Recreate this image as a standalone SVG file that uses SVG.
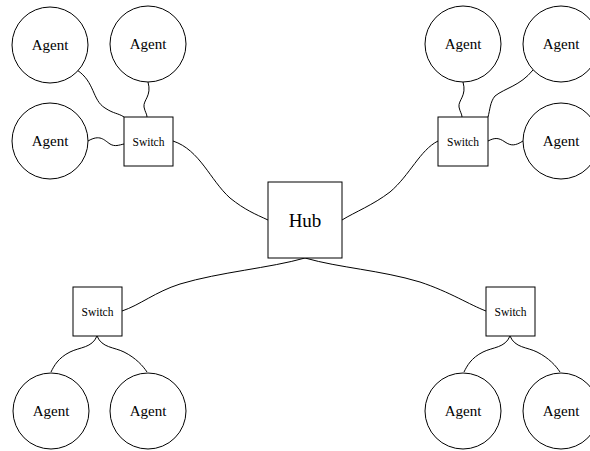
<svg xmlns="http://www.w3.org/2000/svg" width="590" height="451" viewBox="0 0 590 451">
<style>
.n{fill:#fff;stroke:#000;stroke-width:1}
.t{font-family:"Liberation Serif","Times New Roman",serif;fill:#000;text-anchor:middle;dominant-baseline:central}
.a{font-size:15px}
.s{font-size:11.5px}
.h{font-size:19px}
.c{fill:none;stroke:#000;stroke-width:1}
</style>
<rect width="590" height="451" fill="#fff"/>
<g id="connectors">
<path class="c" d="M77,70 C95,82 92,100 105,108 C114,114 118,113 124,117"/>
<path class="c" d="M148,82 C152,96 143,100 144,107 C145,112 147,114 147,117"/>
<path class="c" d="M88,141 C100,134 104,140 110,144 C115,147 119,145 124,144"/>
<path class="c" d="M173,141 C200,150 210,180 230,198 C245,210 255,214 268,220"/>
<path class="c" d="M463,82 C467,96 458,100 459,107 C460,112 462,114 462,117"/>
<path class="c" d="M533,70 C520,86 505,88 495,96 C490,102 490,110 488,117"/>
<path class="c" d="M523,141 C515,146 511,146 505,142 C498,137 494,138 488,141"/>
<path class="c" d="M438,141 C420,150 410,175 390,192 C373,205 355,212 342,220"/>
<path class="c" d="M305,258 C270,268 220,272 180,284 C155,292 140,305 122,311"/>
<path class="c" d="M305,258 C340,268 380,270 420,282 C450,292 470,305 486,311"/>
<path class="c" d="M97,336 C92,348 80,347 70,352 C58,358 54,366 51,372"/>
<path class="c" d="M97,336 C102,348 114,347 124,352 C136,358 143,366 147,372"/>
<path class="c" d="M510,336 C505,348 493,347 483,352 C471,358 467,366 464,372"/>
<path class="c" d="M510,336 C515,348 527,347 537,352 C549,358 556,366 560,372"/>
</g>
<g id="agent-tl1"><circle class="n" cx="50" cy="45" r="38"/><text class="t a" x="50" y="45">Agent</text></g>
<g id="agent-tl2"><circle class="n" cx="148" cy="44" r="38"/><text class="t a" x="148" y="44">Agent</text></g>
<g id="agent-tl3"><circle class="n" cx="50" cy="141" r="38"/><text class="t a" x="50" y="141">Agent</text></g>
<g id="switch-tl"><rect class="n" x="124" y="117" width="49" height="49"/><text class="t s" x="148.5" y="141.5">Switch</text></g>
<g id="agent-tr1"><circle class="n" cx="463" cy="44" r="38"/><text class="t a" x="463" y="44">Agent</text></g>
<g id="agent-tr2"><circle class="n" cx="561" cy="44" r="38"/><text class="t a" x="561" y="44">Agent</text></g>
<g id="agent-tr3"><circle class="n" cx="561" cy="141" r="38"/><text class="t a" x="561" y="141">Agent</text></g>
<g id="switch-tr"><rect class="n" x="438" y="117" width="50" height="49"/><text class="t s" x="463" y="141.5">Switch</text></g>
<g id="hub"><rect class="n" x="268" y="182" width="74" height="76"/><text class="t h" x="305" y="220">Hub</text></g>
<g id="switch-bl"><rect class="n" x="73" y="287" width="49" height="49"/><text class="t s" x="97.5" y="311.5">Switch</text></g>
<g id="agent-bl1"><circle class="n" cx="51" cy="411" r="38"/><text class="t a" x="51" y="411">Agent</text></g>
<g id="agent-bl2"><circle class="n" cx="148" cy="411" r="38"/><text class="t a" x="148" y="411">Agent</text></g>
<g id="switch-br"><rect class="n" x="486" y="287" width="49" height="49"/><text class="t s" x="510.5" y="311.5">Switch</text></g>
<g id="agent-br1"><circle class="n" cx="463" cy="411" r="38"/><text class="t a" x="463" y="411">Agent</text></g>
<g id="agent-br2"><circle class="n" cx="561" cy="411" r="38"/><text class="t a" x="561" y="411">Agent</text></g>
</svg>
